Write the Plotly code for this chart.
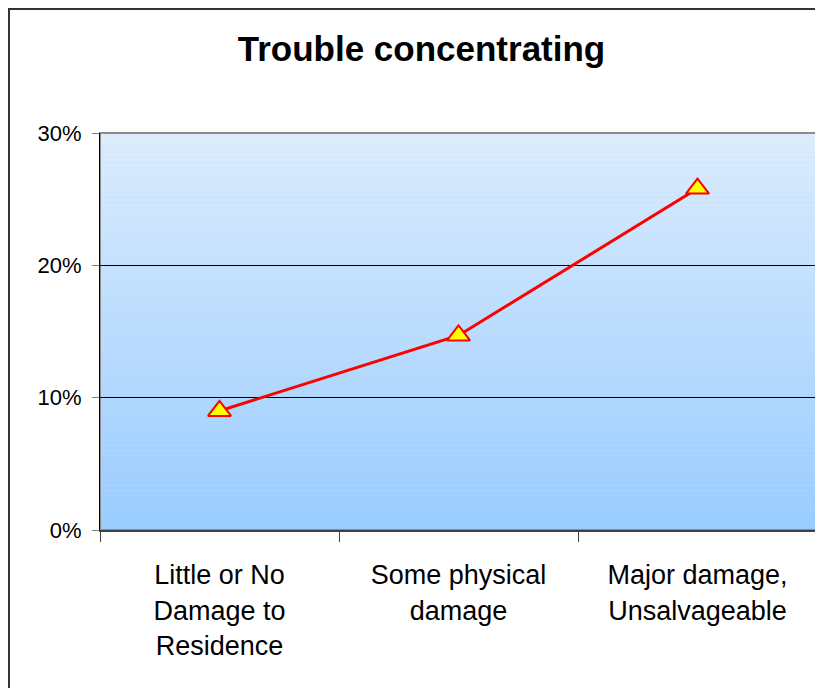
import plotly.graph_objects as go

categories = ["Little or No<br>Damage to<br>Residence", "Some physical<br>damage", "Major damage,<br>Unsalvageable"]
values = [0.09, 0.147, 0.258]

# page body has an 8px margin, so the figure starts at (8, 8)
OFF = 8
W, H = 823 - OFF, 688 - OFF
L, R, T, B = 100 - OFF, W - (817 - OFF), 133 - OFF, 688 - 530
pw, ph = W - L - R, H - T - B

fig = go.Figure()
fig.add_trace(go.Scatter(
    x=categories, y=values,
    mode="lines+markers",
    line=dict(color="#FF0000", width=3),
    marker=dict(symbol="triangle-up", size=20, color="#FFFF00",
                line=dict(color="#FF0000", width=2)),
    showlegend=False,
))

# gradient fill for plot area
shapes = []
n = 80
top = (220, 236, 253)
bot = (153, 204, 255)
for i in range(n):
    f = i / (n - 1)
    c = tuple(round(bot[k] + (top[k] - bot[k]) * f) for k in range(3))
    shapes.append(dict(type="rect", xref="x domain", yref="y domain",
                       x0=0, x1=1, y0=i / n, y1=(i + 1) / n,
                       fillcolor="rgb(%d,%d,%d)" % c, line=dict(width=0),
                       layer="below"))
# gray border of plot area
shapes.append(dict(type="rect", xref="x domain", yref="y domain",
                   x0=0, x1=1, y0=0, y1=1, line=dict(color="#8C8C8C", width=2),
                   layer="below"))
# outer chart frame
shapes.append(dict(type="rect", xref="paper", yref="paper",
                   x0=(1 - L) / pw, x1=1 + (R + 20) / pw,
                   y0=-(B + 20) / ph, y1=1 + (T - 1) / ph,
                   line=dict(color="#333333", width=2), fillcolor="rgba(0,0,0,0)",
                   layer="below"))

fig.update_layout(
    width=W, height=H,
    margin=dict(l=L, r=R, t=T, b=B),
    paper_bgcolor="white",
    plot_bgcolor="#BBDDFF",
    font=dict(family="Liberation Sans, Arial", color="black"),
    title=dict(text="<b>Trouble concentrating</b>", font=dict(size=35, color="black"),
               x=(421.5 - OFF) / W, xref="container", xanchor="center",
               y=1 - (49 - OFF) / H, yref="container", yanchor="middle"),
    shapes=shapes,
    xaxis=dict(range=[-0.5, 2.5], tickson="boundaries", ticks="outside", ticklen=10,
               tickcolor="#404040", showline=True, linecolor="#404040", linewidth=2,
               showgrid=False, tickfont=dict(size=27), ticklabelstandoff=20),
    yaxis=dict(range=[0, 0.3], dtick=0.1, tickformat=".0%", ticks="outside", ticklen=7,
               tickcolor="#808080", showline=True, linecolor="black", linewidth=1,
               showgrid=True, gridcolor="black", gridwidth=1, zeroline=False,
               tickfont=dict(size=22), ticklabelstandoff=6),
)

fig.write_html("out.html")
